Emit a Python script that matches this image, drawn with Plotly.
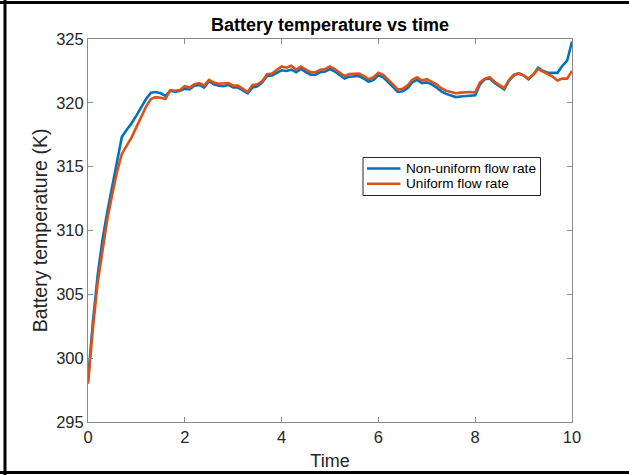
import numpy as np
import plotly.graph_objects as go

# Simulation time (s) and battery temperature (K) for the two cooling strategies
time = np.round(np.linspace(0, 10, 101), 1)

non_uniform = [
    298.2, 302.8, 306.5, 309.3, 311.5, 313.5, 315.6, 317.35, 317.9, 318.4,
    319.0, 319.65, 320.3, 320.8, 320.85, 320.75, 320.55, 320.95, 320.85, 320.95,
    321.1, 321.05, 321.35, 321.4, 321.2, 321.7, 321.45, 321.35, 321.3, 321.4,
    321.2, 321.2, 320.95, 320.75, 321.2, 321.3, 321.6, 322.1, 322.15, 322.35,
    322.55, 322.5, 322.6, 322.4, 322.65, 322.4, 322.2, 322.2, 322.4, 322.45,
    322.65, 322.45, 322.2, 321.9, 322.05, 322.05, 322.1, 321.9, 321.65, 321.8,
    322.15, 322.0, 321.65, 321.25, 320.85, 320.9, 321.15, 321.6, 321.8, 321.55,
    321.6, 321.45, 321.2, 320.9, 320.7, 320.55, 320.45, 320.5, 320.55, 320.55,
    320.6, 321.45, 321.85, 321.9, 321.55, 321.3, 321.05, 321.75, 322.15, 322.3,
    322.15, 321.85, 322.2, 322.75, 322.5, 322.35, 322.35, 322.35, 322.9, 323.3,
    324.8,
]

uniform = [
    298.0, 302.3, 305.9, 308.6, 310.9, 312.8, 314.6, 316.0, 316.6, 317.3,
    318.1, 318.9, 319.7, 320.3, 320.45, 320.4, 320.3, 321.0, 320.95, 321.0,
    321.3, 321.2, 321.45, 321.55, 321.35, 321.8, 321.6, 321.5, 321.5, 321.55,
    321.35, 321.35, 321.1, 320.85, 321.4, 321.45, 321.7, 322.25, 322.3, 322.55,
    322.85, 322.75, 322.9, 322.6, 322.85, 322.6, 322.4, 322.4, 322.6, 322.65,
    322.85, 322.65, 322.4, 322.1, 322.25, 322.25, 322.3, 322.1, 321.85, 322.0,
    322.35, 322.2, 321.85, 321.45, 321.05, 321.1, 321.35, 321.8, 322.0, 321.75,
    321.85, 321.65, 321.45, 321.15, 320.95, 320.85, 320.75, 320.8, 320.82, 320.85,
    320.8, 321.6, 321.9, 322.0, 321.65, 321.4, 321.15, 321.8, 322.2, 322.3,
    322.15, 321.9, 322.2, 322.65, 322.45, 322.2, 322.05, 321.75, 321.9, 321.9,
    322.5,
]

series_names = ["Non-uniform flow rate", "Uniform flow rate"]
series_colors = ["#0072BD", "#D95319"]

x_ticks = [0, 2, 4, 6, 8, 10]
y_ticks = [295, 300, 305, 310, 315, 320, 325]

W, H = 629, 475
ML, MR, MT, MB = 88, 57, 39, 53
PW, PH = W - ML - MR, H - MT - MB

FONT = "Liberation Sans, Arial, Helvetica, sans-serif"
AXIS_GRAY = "#8a8a8a"
TEXT = "#262626"
LINE_W = 2.6

fig = go.Figure()
for name, ys, col in zip(series_names, [non_uniform, uniform], series_colors):
    fig.add_trace(go.Scatter(
        x=time, y=ys, mode="lines", name=name, showlegend=False,
        line=dict(color=col, width=LINE_W),
    ))


def px_x(p):
    return (p - ML) / PW


def px_y(p):
    return 1 - (p - MT) / PH


# black outer frame around the figure
frame = dict(type="line", xref="paper", yref="paper",
             line=dict(color="black", width=3), layer="above")
fig.add_shape(**frame, x0=px_x(0), x1=px_x(W), y0=px_y(2.5), y1=px_y(2.5))
fig.add_shape(**frame, x0=px_x(5), x1=px_x(5), y0=px_y(0), y1=px_y(H))
fig.add_shape(**frame, x0=px_x(0), x1=px_x(W), y0=px_y(472.5), y1=px_y(472.5))

# compact boxed legend inside the axes
LEG_L, LEG_R, LEG_T, LEG_B = 363, 540.5, 157.5, 195.5
fig.add_shape(type="rect", xref="paper", yref="paper",
              x0=px_x(LEG_L), x1=px_x(LEG_R), y0=px_y(LEG_B), y1=px_y(LEG_T),
              line=dict(color=TEXT, width=1), fillcolor="white", layer="above")
for i, (name, col) in enumerate(zip(series_names, series_colors)):
    row_y = 168.5 + 15.2 * i
    fig.add_shape(type="line", xref="paper", yref="paper",
                  x0=px_x(367), x1=px_x(400.5), y0=px_y(row_y), y1=px_y(row_y),
                  line=dict(color=col, width=LINE_W), layer="above")
    fig.add_annotation(text=name, xref="paper", yref="paper",
                       x=px_x(403.5), y=px_y(row_y), xanchor="left",
                       yanchor="middle", showarrow=False,
                       font=dict(family=FONT, size=13.6, color="black"))

axis_common = dict(
    showgrid=False, zeroline=False, showline=True, linecolor=AXIS_GRAY,
    linewidth=1, mirror="allticks", ticks="inside", ticklen=5,
    tickcolor=AXIS_GRAY, tickwidth=1, automargin=False,
    tickfont=dict(family=FONT, size=16.5, color=TEXT),
)

fig.update_layout(
    width=W, height=H,
    margin=dict(l=ML, r=MR, t=MT, b=MB, pad=0),
    paper_bgcolor="white", plot_bgcolor="white",
    font=dict(family=FONT, color=TEXT),
    title=dict(text="<b>Battery temperature vs time</b>",
               font=dict(family=FONT, size=18, color="black"),
               x=330 / W, xanchor="center",
               y=1 - 25 / H, yanchor="middle"),
    xaxis=dict(range=[0, 10], tickvals=x_ticks, **axis_common,
               title=dict(text="Time", standoff=9,
                          font=dict(family=FONT, size=18, color=TEXT))),
    yaxis=dict(range=[295, 325], tickvals=y_ticks, **axis_common,
               title=dict(text="Battery temperature (K)", standoff=3,
                          font=dict(family=FONT, size=19.5, color=TEXT))),
    showlegend=False,
)

fig.write_html("out.html")
